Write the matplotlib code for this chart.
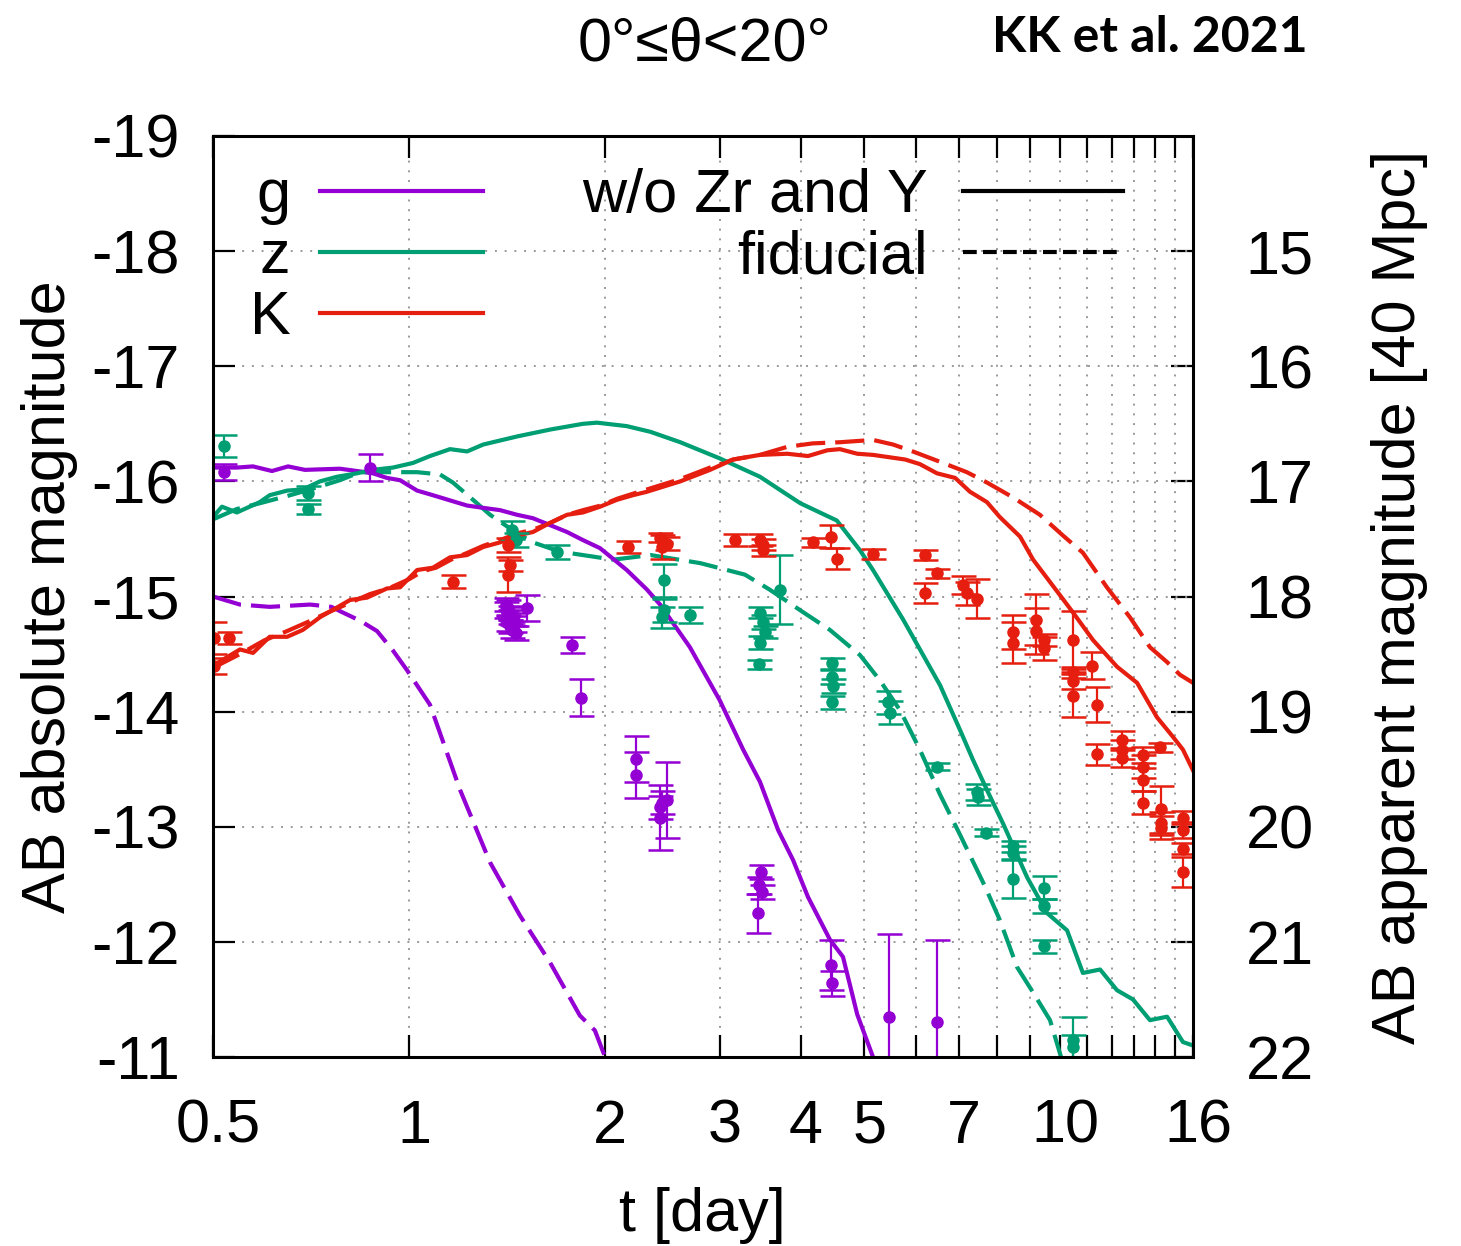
import numpy as np
import matplotlib
matplotlib.use('Agg')
import matplotlib.pyplot as plt
import matplotlib.transforms as mtransforms

plt.rcParams['font.family'] = ['Liberation Sans', 'DejaVu Sans']
plt.rcParams['axes.unicode_minus'] = False

# model light curves (t in day, AB absolute magnitude)
g_solid_t = [0.5, 0.544, 0.576, 0.616, 0.652, 0.692, 0.783, 0.832, 0.88, 0.925, 0.969, 1.029, 1.088, 1.228, 1.30, 1.38,
             1.465, 1.55, 1.647, 1.749, 1.85, 1.965, 2.16, 2.32, 2.43, 2.70, 3.0, 3.26, 3.46, 3.69, 3.89, 4.10, 4.43,
             4.64, 4.88, 5.16, 5.4]
g_solid_m = [-16.12, -16.12, -16.13, -16.09, -16.13, -16.10, -16.11, -16.09, -16.07, -16.03, -16.01, -15.92, -15.88,
             -15.79, -15.77, -15.75, -15.71, -15.68, -15.62, -15.56, -15.49, -15.42, -15.23, -15.06, -14.93, -14.56,
             -14.10, -13.67, -13.39, -12.97, -12.71, -12.39, -12.02, -11.87, -11.37, -11.0, -10.6]
g_dash_t = [0.5, 0.55, 0.611, 0.705, 0.76, 0.792, 0.841, 0.893, 0.945, 0.993, 1.077, 1.198, 1.332, 1.48, 1.647, 1.83,
            1.93, 2.01, 2.1]
g_dash_m = [-15.0, -14.93, -14.91, -14.93, -14.91, -14.86, -14.79, -14.70, -14.53, -14.36, -14.06, -13.32, -12.69,
            -12.23, -11.82, -11.36, -11.23, -10.97, -10.8]

z_solid_t = [0.5, 0.516, 0.544, 0.59, 0.611, 0.65, 0.687, 0.73, 0.775, 0.832, 0.88, 0.945, 1.014, 1.077, 1.156, 1.228,
             1.30, 1.465, 1.647, 1.85, 1.944, 2.16, 2.35, 2.61, 3.0, 3.46, 3.99, 4.54, 4.93, 5.16, 5.74, 6.54, 7.02,
             7.35, 7.72, 8.17, 8.9, 9.55, 10.25, 10.84, 11.52, 12.23, 12.94, 13.74, 14.6, 15.44, 16.0]
z_solid_m = [-15.69, -15.78, -15.73, -15.82, -15.88, -15.92, -15.93, -16.00, -16.04, -16.07, -16.10, -16.12, -16.16,
             -16.22, -16.28, -16.26, -16.32, -16.39, -16.45, -16.50, -16.51, -16.48, -16.43, -16.34, -16.20, -16.04,
             -15.81, -15.66, -15.40, -15.23, -14.80, -14.23, -13.84, -13.58, -13.32, -13.03, -12.56, -12.25, -12.10,
             -11.73, -11.76, -11.58, -11.50, -11.32, -11.35, -11.13, -11.10]
z_dash_t = [0.5, 0.544, 0.59, 0.657, 0.705, 0.783, 0.841, 0.912, 1.029, 1.116, 1.168, 1.254, 1.332, 1.465, 1.55, 1.705,
            2.06, 2.35, 2.80, 3.28, 3.58, 3.99, 4.43, 4.93, 5.29, 5.68, 6.09, 6.54, 7.02, 7.67, 8.08, 8.59, 9.09, 9.65,
            10.07, 10.3]
z_dash_m = [-15.67, -15.76, -15.81, -15.88, -15.93, -16.01, -16.08, -16.08, -16.08, -16.06, -15.99, -15.84, -15.71,
            -15.55, -15.47, -15.39, -15.32, -15.36, -15.29, -15.19, -15.06, -14.88, -14.71, -14.49, -14.27, -14.01,
            -13.67, -13.28, -12.93, -12.48, -12.19, -11.78, -11.56, -11.32, -10.97, -10.8]

K_solid_t = [0.5, 0.55, 0.576, 0.611, 0.65, 0.687, 0.73, 0.812, 0.862, 0.925, 0.969, 1.029, 1.088, 1.156, 1.228, 1.30,
             1.38, 1.465, 1.55, 1.647, 1.749, 1.85, 1.965, 2.087, 2.208, 2.32, 2.61, 2.90, 3.145, 3.46, 3.81, 4.10, 4.39,
             4.59, 4.88, 5.16, 5.78, 6.09, 6.47, 6.90, 7.27, 7.72, 8.08, 8.68, 9.09, 10.0, 10.47, 11.24, 12.23, 13.13,
             14.09, 14.91, 15.44, 16.0]
K_solid_m = [-14.40, -14.54, -14.51, -14.65, -14.65, -14.71, -14.82, -14.97, -14.99, -15.07, -15.08, -15.23, -15.25,
             -15.34, -15.36, -15.43, -15.47, -15.53, -15.56, -15.64, -15.71, -15.73, -15.78, -15.84, -15.88, -15.91,
             -16.0, -16.10, -16.19, -16.23, -16.24, -16.22, -16.27, -16.28, -16.24, -16.23, -16.19, -16.15, -16.07,
             -16.03, -15.91, -15.82, -15.69, -15.52, -15.32, -15.01, -14.86, -14.62, -14.39, -14.25, -13.95, -13.78,
             -13.67, -13.49]
K_dash_t = [0.5, 0.55, 0.6, 0.65, 0.7, 0.75, 0.8, 0.87, 0.93, 1.0, 1.05, 1.1, 1.16, 1.23, 1.3, 1.38, 1.47, 1.55, 1.65,
            1.75, 1.85, 1.97, 2.09, 2.2, 2.32, 2.61, 2.9, 3.15, 3.46, 3.81, 4.17, 4.59, 5.16, 5.54, 5.94, 6.54, 7.19,
            7.72, 8.47, 9.31, 10.1, 10.84, 11.8, 12.8, 13.74, 14.6, 15.28, 16.0]
K_dash_m = [-14.38, -14.50, -14.62, -14.70, -14.78, -14.86, -14.93, -15.02, -15.07, -15.15, -15.22, -15.25, -15.32,
            -15.38, -15.44, -15.49, -15.55, -15.58, -15.64, -15.71, -15.75, -15.79, -15.85, -15.89, -15.93, -16.02,
            -16.12, -16.19, -16.23, -16.30, -16.33, -16.34, -16.36, -16.32, -16.26, -16.17, -16.08, -15.99, -15.86,
            -15.71, -15.53, -15.38, -15.08, -14.82, -14.56, -14.43, -14.32, -14.25]

# observed points (t, mag, error)
g_obs_t = [0.52, 0.87, 1.41, 1.42, 1.43, 1.44, 1.45, 1.42, 1.43, 1.44, 1.46, 1.41, 1.43, 1.45, 1.52, 1.78, 1.84,
           2.23, 2.23, 2.49, 2.45, 2.43, 2.43, 3.47, 3.45, 3.48, 3.44, 4.45, 4.46, 5.46, 6.47]
g_obs_m = [-16.08, -16.12, -14.93, -14.90, -14.86, -14.83, -14.80, -14.77, -14.74, -14.71, -14.68, -14.88, -14.82,
           -14.76, -14.90, -14.58, -14.12, -13.59, -13.45, -13.23, -13.21, -13.17, -13.08, -12.61, -12.49, -12.43,
           -12.25, -11.80, -11.64, -11.35, -11.30]
g_obs_e = [0.07, 0.12, 0.06, 0.07, 0.06, 0.08, 0.06, 0.07, 0.06, 0.07, 0.06, 0.07, 0.06, 0.07, 0.11, 0.07, 0.16,
           0.2, 0.2, 0.33, 0.1, 0.1, 0.28, 0.06, 0.07, 0.06, 0.17, 0.22, 0.11, 0.72, 0.72]

z_obs_t = [0.52, 0.70, 0.70, 1.44, 1.46, 1.69, 2.46, 2.46, 2.45, 2.70, 3.46, 3.50, 3.52, 3.46, 3.45, 3.71, 4.46, 4.46,
           4.48, 4.46, 5.44, 5.48, 6.47, 7.46, 7.48, 7.69, 8.47, 8.47, 8.47, 9.45, 9.45, 9.45, 10.47, 10.47]
z_obs_m = [-16.31, -15.90, -15.76, -15.58, -15.49, -15.39, -15.14, -14.88, -14.82, -14.84, -14.86, -14.78, -14.69,
           -14.60, -14.41, -15.06, -14.42, -14.30, -14.22, -14.08, -14.08, -13.99, -13.52, -13.30, -13.26, -12.95,
           -12.83, -12.77, -12.55, -12.47, -12.31, -11.96, -11.15, -11.09]
z_obs_e = [0.095, 0.06, 0.04, 0.08, 0.06, 0.06, 0.14, 0.1, 0.09, 0.07, 0.05, 0.06, 0.05, 0.06, 0.04, 0.30, 0.05, 0.06,
           0.06, 0.06, 0.1, 0.1, 0.03, 0.07, 0.07, 0.03, 0.05, 0.06, 0.17, 0.1, 0.06, 0.06, 0.2, 0.1]

K_obs_t = [0.502, 0.53, 0.502, 1.17, 1.42, 1.43, 1.42, 2.17, 2.43, 2.49, 2.45, 3.17, 3.46, 3.50, 3.50, 4.17, 4.45,
           4.54, 5.16, 6.2, 6.47, 6.2, 7.1, 7.2, 7.46, 8.47, 8.47, 9.18, 9.18, 9.45, 9.45, 10.47, 10.47, 10.47, 10.47,
           11.2, 11.4, 11.4, 12.45, 12.45, 12.45, 13.4, 13.4, 13.4, 13.4, 14.24, 14.3, 14.3, 14.3, 15.44, 15.44,
           15.44, 15.44]
K_obs_m = [-14.64, -14.64, -14.40, -15.13, -15.45, -15.27, -15.19, -15.43, -15.51, -15.46, -15.43, -15.49, -15.49,
           -15.45, -15.40, -15.47, -15.52, -15.33, -15.37, -15.36, -15.20, -15.03, -15.10, -15.03, -14.98, -14.69,
           -14.60, -14.80, -14.70, -14.62, -14.55, -14.62, -14.34, -14.27, -14.14, -14.40, -14.06, -13.63, -13.75,
           -13.67, -13.60, -13.62, -13.52, -13.41, -13.21, -13.69, -13.15, -13.03, -12.99, -13.08, -12.97, -12.81,
           -12.61]
K_obs_e = [0.14, 0.05, 0.07, 0.06, 0.06, 0.05, 0.15, 0.05, 0.04, 0.06, 0.1, 0.05, 0.05, 0.05, 0.05, 0.04, 0.1, 0.09,
           0.04, 0.04, 0.04, 0.09, 0.08, 0.1, 0.17, 0.15, 0.18, 0.22, 0.2, 0.05, 0.1, 0.25, 0.05, 0.07, 0.19, 0.12,
           0.15, 0.09, 0.08, 0.08, 0.08, 0.07, 0.1, 0.1, 0.1, 0.04, 0.2, 0.1, 0.1, 0.06, 0.07, 0.05, 0.13]

dist_mod = 33.0  # 40 Mpc

x_ticks = [0.5] + list(range(1, 17))
x_labels = {0.5: '0.5', 1: '1', 2: '2', 3: '3', 4: '4', 5: '5', 7: '7', 10: '10', 16: '16'}

purple = '#9400D3'
green = '#009E73'
red = '#E51E10'
fs = 44

fig = plt.figure(figsize=(14.61, 12.46), dpi=100)
ax = fig.add_axes([213/1461, 1-1057/1246, 980/1461, 921/1246])

dash = (7, 2.4)
for t, m, c in [(g_dash_t, g_dash_m, purple), (z_dash_t, z_dash_m, green), (K_dash_t, K_dash_m, red)]:
    ax.plot(t, m, color=c, lw=3, linestyle='--', dashes=dash)
for t, m, c in [(g_solid_t, g_solid_m, purple), (z_solid_t, z_solid_m, green), (K_solid_t, K_solid_m, red)]:
    ax.plot(t, m, color=c, lw=3)

for t, m, e, c in [(g_obs_t, g_obs_m, g_obs_e, purple), (z_obs_t, z_obs_m, z_obs_e, green),
                   (K_obs_t, K_obs_m, K_obs_e, red)]:
    ax.errorbar(t, m, yerr=e, fmt='o', color=c, ms=8, elinewidth=1.6, capsize=9, capthick=1.8)

ax.set_xscale('log')
ax.set_xlim(0.5, 16)
ax.set_ylim(-11, -19)
ax.set_xticks(x_ticks)
ax.set_xticklabels([x_labels.get(v, '') for v in x_ticks])
ax.xaxis.set_minor_locator(matplotlib.ticker.NullLocator())
ax.set_yticks(np.arange(-19, -10))
ax.grid(True, color='#999999', linestyle=(0, (1, 4)), lw=1.4)

ax.tick_params(axis='both', direction='in', length=16, width=1.6, labelsize=fs)
ax.tick_params(axis='x', top=True, pad=30)
ax.tick_params(axis='y', pad=24)
for s in ax.spines.values():
    s.set_linewidth(2.2)

# gnuplot puts the x labels slightly right of the ticks
shift = mtransforms.ScaledTranslation(5/100, 0, fig.dpi_scale_trans)
for lab in ax.get_xticklabels():
    lab.set_transform(lab.get_transform() + shift)

sec = ax.secondary_yaxis('right', functions=(lambda m: m + dist_mod, lambda m: m - dist_mod))
sec.set_yticks(np.arange(15, 23))
sec.tick_params(direction='in', length=16, width=1.6, labelsize=fs, pad=38)

# legend
for y, lab, c in [(0.940, 'g', purple), (0.874, 'z', green), (0.808, 'K', red)]:
    ax.plot([0.109, 0.2755], [y, y], transform=ax.transAxes, color=c, lw=3)
    ax.text(0.079, y - 0.006, lab, transform=ax.transAxes, ha='right', va='center', fontsize=fs)
ax.plot([0.765, 0.9286], [0.940, 0.940], transform=ax.transAxes, color='black', lw=3)
ax.plot([0.765, 0.9286], [0.874, 0.874], transform=ax.transAxes, color='black', lw=3, linestyle='--', dashes=(3.3, 1.5))
ax.text(0.7296, 0.934, 'w/o Zr and Y', transform=ax.transAxes, ha='right', va='center', fontsize=fs)
ax.text(0.7296, 0.868, 'fiducial', transform=ax.transAxes, ha='right', va='center', fontsize=fs)

fig.text(50/1461, 1-597/1246, 'AB absolute magnitude', rotation=90, ha='center', va='center', fontsize=fs)
fig.text(1400/1461, 1-597/1246, 'AB apparent magnitude [40 Mpc]', rotation=90, ha='center', va='center', fontsize=fs)
fig.text(702/1461, 1-1215/1246, 't [day]', ha='center', va='center', fontsize=fs)
fig.text(705/1461, 1-45/1246, '0°≤θ<20°', ha='center', va='center', fontsize=fs)
fig.text(1308/1461, 1-38/1246, 'KK et al. 2021', ha='right', va='center', fontsize=36,
         fontweight='bold', family=['Lato', 'DejaVu Sans'])

fig.savefig('out.png', dpi=100)
